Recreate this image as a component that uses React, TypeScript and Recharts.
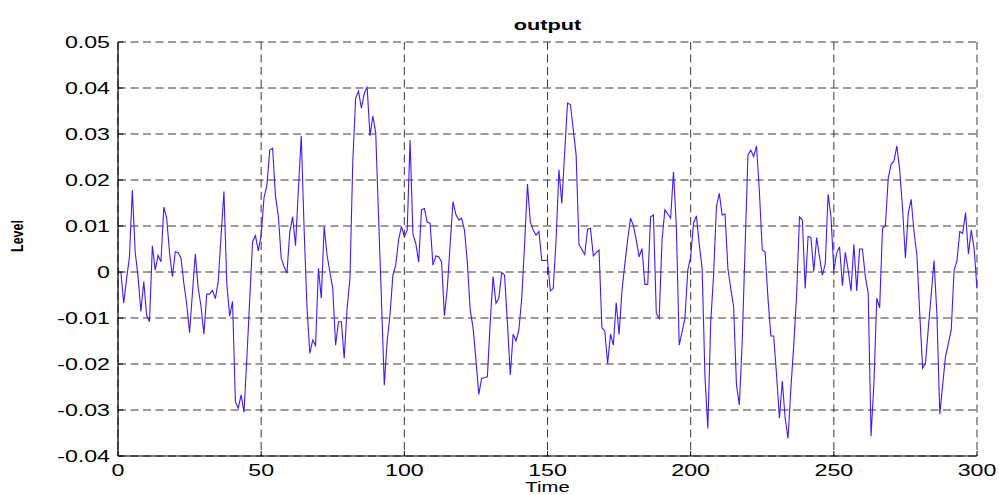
import { LineChart, Line, XAxis, YAxis, CartesianGrid } from "recharts";

// output level, one sample per time step (t = 1..300)
const level = [
  0, -0.0068, -0.0015, 0.0033, 0.0178, 0.0044, -0.0010, -0.0086, -0.0021, -0.0094,
  -0.0108, 0.0057, 0.0004, 0.0036, 0.0022, 0.0141, 0.0117, 0.0042, -0.0010, 0.0044,
  0.0042, 0.0030, -0.0025, -0.0070, -0.0132, -0.0045, 0.0039, -0.0035, -0.0075, -0.0135,
  -0.0048, -0.0048, -0.0040, -0.0058, -0.0021, 0.0080, 0.0175, -0.0025, -0.0096, -0.0064,
  -0.0282, -0.0296, -0.0267, -0.0305, -0.0188, -0.0060, 0.0066, 0.0079, 0.0046, 0.0080,
  0.0162, 0.0189, 0.0265, 0.0269, 0.0165, 0.0122, 0.0030, 0.0012, -0.0003, 0.0088,
  0.0120, 0.0057, 0.0180, 0.0296, 0.0093, -0.0076, -0.0177, -0.0148, -0.0160, 0.0008,
  -0.0057, 0.0099, 0.0037, 0.0000, -0.0036, -0.0159, -0.0108, -0.0108, -0.0188, -0.0080,
  -0.0014, 0.0240, 0.0378, 0.0393, 0.0356, 0.0388, 0.0403, 0.0296, 0.0339, 0.0303,
  0.0120, -0.0060, -0.0246, -0.0150, -0.0093, -0.0007, 0.0015, 0.0070, 0.0099, 0.0077,
  0.0091, 0.0287, 0.0082, 0.0062, 0.0022, 0.0135, 0.0138, 0.0108, 0.0106, 0.0015,
  0.0035, 0.0033, 0.0022, -0.0095, -0.0036, 0.0060, 0.0153, 0.0125, 0.0113, 0.0117,
  0.0091, 0.0022, -0.0083, -0.0121, -0.0190, -0.0266, -0.0231, -0.0230, -0.0228, -0.0109,
  -0.0010, -0.0068, -0.0057, -0.0001, -0.0007, -0.0110, -0.0224, -0.0135, -0.0150, -0.0126,
  -0.0057, 0.0060, 0.0191, 0.0109, 0.0091, 0.0080, 0.0088, 0.0025, 0.0025, 0.0026,
  -0.0041, -0.0036, 0.0070, 0.0222, 0.0149, 0.0260, 0.0367, 0.0364, 0.0310, 0.0254,
  0.0060, 0.0049, 0.0038, 0.0093, 0.0095, 0.0035, 0.0042, 0.0048, -0.0121, -0.0128,
  -0.0199, -0.0135, -0.0159, -0.0067, -0.0136, -0.0041, 0.0017, 0.0070, 0.0117, 0.0101,
  0.0070, 0.0033, 0.0051, -0.0027, -0.0027, 0.0120, 0.0124, -0.0090, -0.0101, 0.0070,
  0.0135, 0.0126, 0.0117, 0.0218, 0.0099, -0.0159, -0.0130, -0.0101, 0.0004, 0.0033,
  0.0106, 0.0122, 0.0060, 0.0008, -0.0228, -0.0340, -0.0110, -0.0007, 0.0142, 0.0171,
  0.0124, 0.0126, 0.0008, -0.0036, -0.0075, -0.0246, -0.0289, -0.0151, 0.0051, 0.0254,
  0.0265, 0.0251, 0.0274, 0.0175, 0.0048, 0.0044, -0.0057, -0.0139, -0.0139, -0.0224,
  -0.0318, -0.0237, -0.0318, -0.0362, -0.0253, -0.0159, -0.0050, 0.0120, 0.0113, -0.0036,
  0.0077, 0.0075, 0.0001, 0.0075, 0.0033, -0.0007, 0.0017, 0.0169, 0.0120, 0.0004,
  0.0041, 0.0055, -0.0030, 0.0043, 0.0004, -0.0041, 0.0060, -0.0041, 0.0050, 0.0050,
  -0.0010, -0.0046, -0.0357, -0.0242, -0.0057, -0.0078, 0.0095, 0.0100, 0.0204, 0.0234,
  0.0241, 0.0274, 0.0222, 0.0138, 0.0030, 0.0128, 0.0158, 0.0088, 0.0037, -0.0090,
  -0.0209, -0.0199, -0.0122, -0.0050, 0.0025, -0.0093, -0.0309, -0.0246, -0.0184, -0.0155,
  -0.0126, 0.0004, 0.0024, 0.0088, 0.0084, 0.0129, 0.0039, 0.0091, 0.0050, -0.0036,
];

const timeTicks = [0, 50, 100, 150, 200, 250, 300];
const levelTicks = [-0.04, -0.03, -0.02, -0.01, 0, 0.01, 0.02, 0.03, 0.04, 0.05];

const data = level.map((v, i) => ({ time: i + 1, level: v }));

const W = 999;
const H = 495;
const LEFT = 118;
const RIGHT = 977;
const TOP = 42;
const BOTTOM = 456;
// the figure was stretched sideways, so text is wider than normal
const STRETCH = 1.45;
const FONT = '"Liberation Sans", Arial, Helvetica, sans-serif';

const fmt = (v: number) => (v === 0 ? "0" : v.toFixed(2));

function Label({ x, y, size, bold, rotate, stretch = STRETCH, anchor = "middle", children }: any) {
  return (
    <g transform={`translate(${x} ${y}) scale(${stretch} 1)${rotate ? " rotate(-90)" : ""}`}>
      <text
        x={0}
        y={0}
        textAnchor={anchor}
        dominantBaseline="central"
        fontSize={size}
        fontWeight={bold ? "bold" : "normal"}
        fontFamily={FONT}
        fill="#000"
      >
        {children}
      </text>
    </g>
  );
}

function LeftTick({ y, payload }: any) {
  return (
    <g>
      <line x1={LEFT} x2={LEFT + 5} y1={y} y2={y} stroke="#000" />
      <Label x={LEFT - 8} y={y} size={16} anchor="end">{fmt(payload.value)}</Label>
    </g>
  );
}

function RightTick({ y }: any) {
  return <line x1={RIGHT} x2={RIGHT - 5} y1={y} y2={y} stroke="#000" />;
}

function BottomTick({ x, payload }: any) {
  return (
    <g>
      <line x1={x} x2={x} y1={BOTTOM} y2={BOTTOM - 5} stroke="#000" />
      <Label x={x} y={470} size={16}>{payload.value}</Label>
    </g>
  );
}

function TopTick({ x }: any) {
  return <line x1={x} x2={x} y1={TOP} y2={TOP + 5} stroke="#000" />;
}

export default function App() {
  return (
    <div style={{ position: "absolute", left: 0, top: 0, width: W, height: H, background: "#fff" }}>
      <LineChart
        width={W}
        height={H}
        data={data}
        margin={{ top: TOP, right: W - RIGHT, bottom: 0, left: 0 }}
      >
        <CartesianGrid stroke="#222" strokeDasharray="8 4.5" strokeWidth={0.9} />
        <XAxis
          dataKey="time"
          type="number"
          domain={[0, 300]}
          ticks={timeTicks}
          height={H - BOTTOM}
          axisLine={{ stroke: "#000", strokeWidth: 1.2 }}
          tickLine={false}
          tick={(p: any) => <BottomTick {...p} />}
        />
        <XAxis
          xAxisId="top"
          orientation="top"
          dataKey="time"
          type="number"
          domain={[0, 300]}
          ticks={timeTicks}
          height={0}
          axisLine={{ stroke: "#000", strokeWidth: 1.2 }}
          tickLine={false}
          tick={(p: any) => <TopTick {...p} />}
        />
        <YAxis
          type="number"
          domain={[-0.04, 0.05]}
          ticks={levelTicks}
          allowDataOverflow
          width={LEFT}
          axisLine={{ stroke: "#000", strokeWidth: 1.2 }}
          tickLine={false}
          tick={(p: any) => <LeftTick {...p} />}
        />
        <YAxis
          yAxisId="right"
          orientation="right"
          type="number"
          domain={[-0.04, 0.05]}
          ticks={levelTicks}
          allowDataOverflow
          width={0}
          axisLine={{ stroke: "#000", strokeWidth: 1.2 }}
          tickLine={false}
          tick={(p: any) => <RightTick {...p} />}
        />
        <Line
          type="linear"
          dataKey="level"
          stroke="#3a1cff"
          strokeWidth={1.1}
          dot={false}
          isAnimationActive={false}
        />
      </LineChart>
      <svg
        width={W}
        height={H}
        style={{ position: "absolute", left: 0, top: 0, pointerEvents: "none" }}
      >
        <Label x={(LEFT + RIGHT) / 2} y={25} size={15} bold>output</Label>
        <Label x={(LEFT + RIGHT) / 2} y={487} size={14}>Time</Label>
        <Label x={17} y={236} size={12.5} bold rotate stretch={1.3}>Level</Label>
      </svg>
    </div>
  );
}
